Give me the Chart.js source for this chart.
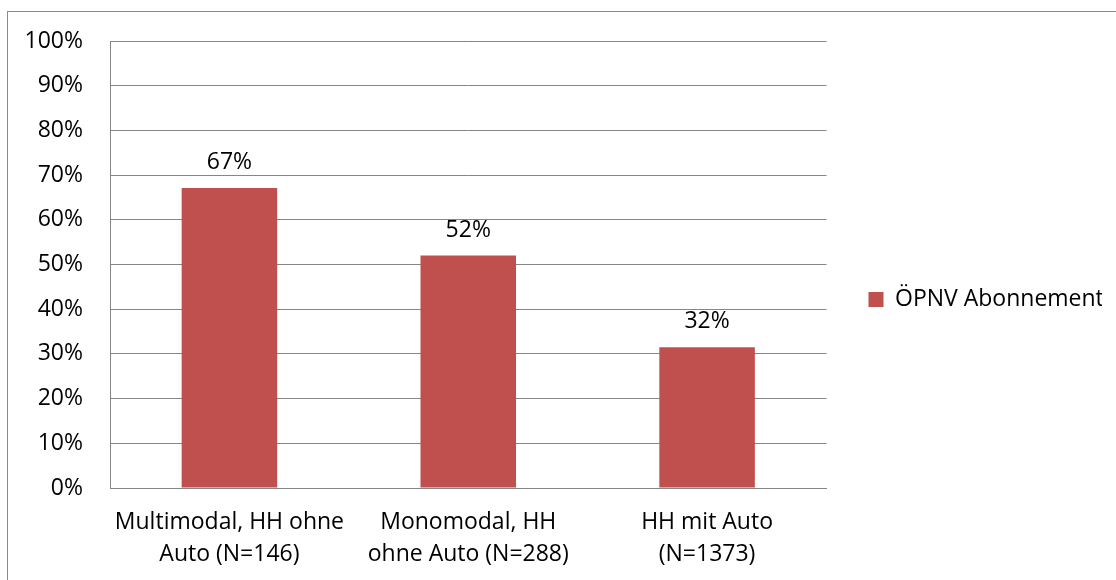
<!DOCTYPE html>
<html>
<head>
<meta charset="utf-8">
<script src="https://cdn.jsdelivr.net/npm/chart.js@4"></script>
<style>
  body { margin: 0; background: #fff; }
  #frame { position: absolute; left: 7px; top: 11px; width: 1300px; height: 800px; border: 1px solid #8a8a8a; }
  #chart { position: absolute; left: 0; top: 0; }
</style>
</head>
<body>
<div id="frame"></div>
<canvas id="chart" width="1116" height="580"></canvas>
<script>
const categories = [
      ["Multimodal, HH ohne", "Auto (N=146)"],
      ["Monomodal, HH", "ohne Auto (N=288)"],
      ["HH mit Auto", "(N=1373)"]
];
const seriesName = "ÖPNV Abonnement";
const values = [67.1, 52.0, 31.5];
const yTicks = [0, 10, 20, 30, 40, 50, 60, 70, 80, 90, 100];

const gridGray = "#868686";
Chart.defaults.font.family = "'Open Sans', sans-serif";
Chart.defaults.font.size = 23;
Chart.defaults.color = "#000";

// labels over the bars, like excel data labels
const barLabels = {
      id: "barLabels",
      afterLayout(chart) {
            // excel centres the legend on the whole frame, not below the top padding
            chart.legend.bottom -= 22;
      },
      afterDatasetsDraw(chart) {
            const ctx = chart.ctx;
            const meta = chart.getDatasetMeta(0);
            ctx.save();
            ctx.font = "23px 'Open Sans', sans-serif";
            ctx.fillStyle = "#000";
            ctx.textAlign = "center";
            ctx.textBaseline = "alphabetic";
            meta.data.forEach(function (bar, i) {
                  ctx.fillText(Math.round(values[i]) + "%", bar.x, bar.y - 19);
            });
            ctx.restore();
      }
};

new Chart(document.getElementById("chart"), {
      type: "bar",
      data: {
            labels: categories,
            datasets: [{
                  label: seriesName,
                  data: values,
                  backgroundColor: "#C0504D",
                  borderWidth: 0,
                  barPercentage: 0.4,
                  categoryPercentage: 1.0
            }]
      },
      options: {
            responsive: false,
            animation: false,
            layout: { padding: { top: 41, left: 0, right: 14, bottom: 0 } },
            plugins: {
                  tooltip: { enabled: false },
                  legend: {
                        position: "right",
                        align: "center",
                        labels: {
                              boxWidth: 15,
                              boxHeight: 15,
                              padding: 42,
                              font: { size: 23 }
                        }
                  }
            },
            scales: {
                  x: {
                        grid: { display: false },
                        border: { display: true, color: gridGray, width: 1 },
                        ticks: { padding: 11, maxRotation: 0, font: { size: 23, lineHeight: 1.37 } },
                        afterFit(scale) { scale.height = 92; }
                  },
                  y: {
                        min: 0,
                        max: 100,
                        afterBuildTicks(scale) { scale.ticks = yTicks.map(v => ({ value: v })); },
                        grid: { color: gridGray, lineWidth: 1, drawTicks: false },
                        border: { display: true, color: gridGray, width: 1 },
                        ticks: {
                              padding: 27,
                              callback: v => v + "%"
                        },
                        afterFit(scale) { scale.width = 110; }
                  }
            }
      },
      plugins: [barLabels]
});
</script>
</body>
</html>
